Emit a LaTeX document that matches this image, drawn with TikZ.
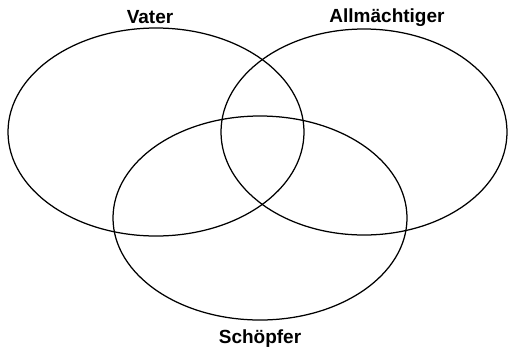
\documentclass[tikz,border=0pt]{standalone}
\usepackage{fontspec}
\setmainfont{Liberation Sans}
\usetikzlibrary{positioning,shapes.geometric}
\tikzset{
  ring/.style={draw, ellipse, inner sep=0pt, line width=1.25pt},
  setlabel/.style={font=\fontsize{19}{22}\selectfont\bfseries, inner sep=0pt}
}
\begin{document}
\begin{tikzpicture}[x=1pt, y=-1pt]
    \useasboundingbox (0,0) rectangle (514,354);
    \node[ring, minimum width=296pt, minimum height=208pt] (vater) at (156,132) {};
    \node[ring, minimum width=286pt, minimum height=206pt] (allm) at (364,132) {};
    \node[ring, minimum width=294pt, minimum height=204pt] (schoepfer) at (260,218) {};
    \node[setlabel] (lvater) at (150,17) {Vater};
    \node[setlabel] (lallm) at (387,18) {Allmächtiger};
    \node[setlabel, below=9pt of schoepfer] (lschoepfer) {Schöpfer};
  \end{tikzpicture}
\end{document}
